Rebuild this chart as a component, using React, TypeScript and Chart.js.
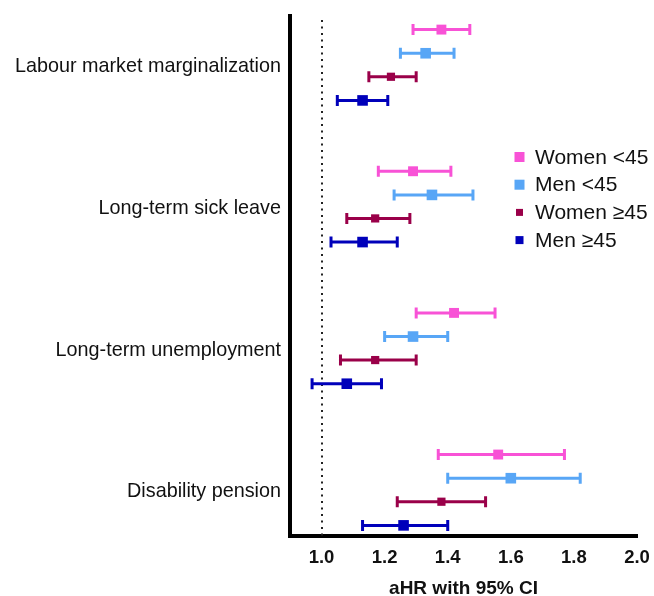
import React, { useEffect, useRef } from 'react';
import { Chart, registerables } from 'chart.js';

Chart.register(...registerables);

// ---------- DATA ----------
const CATEGORIES = [
  'Labour market marginalization',
  'Long-term sick leave',
  'Long-term unemployment',
  'Disability pension',
];
const SERIES_LABELS = ['Women <45', 'Men <45', 'Women \u226545', 'Men \u226545'];

const WOMEN_U45_HR = [1.38, 1.29, 1.42, 1.56];
const WOMEN_U45_LO = [1.29, 1.18, 1.30, 1.37];
const WOMEN_U45_HI = [1.47, 1.41, 1.55, 1.77];

const MEN_U45_HR = [1.33, 1.35, 1.29, 1.60];
const MEN_U45_LO = [1.25, 1.23, 1.20, 1.40];
const MEN_U45_HI = [1.42, 1.48, 1.40, 1.82];

const WOMEN_O45_HR = [1.22, 1.17, 1.17, 1.38];
const WOMEN_O45_LO = [1.15, 1.08, 1.06, 1.24];
const WOMEN_O45_HI = [1.30, 1.28, 1.30, 1.52];

const MEN_O45_HR = [1.13, 1.13, 1.08, 1.26];
const MEN_O45_LO = [1.05, 1.03, 0.97, 1.13];
const MEN_O45_HI = [1.21, 1.24, 1.19, 1.40];

const X_TICKS = [1.0, 1.2, 1.4, 1.6, 1.8, 2.0];
const X_MIN = 0.9;
const X_MAX = 2.0;
const REF_VALUE = 1.0;
const X_TITLE = 'aHR with 95% CI';

// ---------- STYLE ----------
const FONT = "'Liberation Sans', Arial, Helvetica, sans-serif";
const COLORS = ['#F852D6', '#58A6F6', '#9A0049', '#0000BA'];
const POINT_RADII = [7, 7.5, 5.8, 7.5];
const LEGEND_BOX = [10, 10, 7, 8];
const ROW_OFFSETS = [-0.25, -0.083, 0.083, 0.25];

const SERIES = [
  { hr: WOMEN_U45_HR, lo: WOMEN_U45_LO, hi: WOMEN_U45_HI },
  { hr: MEN_U45_HR, lo: MEN_U45_LO, hi: MEN_U45_HI },
  { hr: WOMEN_O45_HR, lo: WOMEN_O45_LO, hi: WOMEN_O45_HI },
  { hr: MEN_O45_HR, lo: MEN_O45_LO, hi: MEN_O45_HI },
];

const errorBarPlugin = {
  id: 'errorBars',
  beforeDatasetsDraw(chart: any) {
    const { ctx, chartArea, scales } = chart;
    const xs = scales.x;
    const ys = scales.y;
    ctx.save();
    // reference dotted line
    const rx = Math.round(xs.getPixelForValue(REF_VALUE));
    ctx.strokeStyle = '#222';
    ctx.lineWidth = 2;
    ctx.lineCap = 'butt';
    ctx.setLineDash([2, 4.5]);
    ctx.beginPath();
    ctx.moveTo(rx, chartArea.top + 4);
    ctx.lineTo(rx, chartArea.bottom);
    ctx.stroke();
    ctx.setLineDash([]);
    // error bars
    chart.data.datasets.forEach((ds: any) => {
      ctx.strokeStyle = ds.borderColor;
      ctx.lineWidth = 3;
      ds.data.forEach((p: any) => {
        const yy = ys.getPixelForValue(p.y);
        const x1 = xs.getPixelForValue(p.lo);
        const x2 = xs.getPixelForValue(p.hi);
        ctx.beginPath();
        ctx.moveTo(x1, yy);
        ctx.lineTo(x2, yy);
        ctx.moveTo(x1, yy - 5.5);
        ctx.lineTo(x1, yy + 5.5);
        ctx.moveTo(x2, yy - 5.5);
        ctx.lineTo(x2, yy + 5.5);
        ctx.stroke();
      });
    });
    ctx.restore();
  },
};

const legendPlugin = {
  id: 'insideLegend',
  afterDraw(chart: any) {
    const { ctx } = chart;
    ctx.save();
    ctx.font = `21px ${FONT}`;
    ctx.textBaseline = 'middle';
    ctx.textAlign = 'left';
    chart.data.datasets.forEach((ds: any, i: number) => {
      const cy = 157 + i * 27.7;
      const s = LEGEND_BOX[i];
      ctx.fillStyle = ds.backgroundColor;
      ctx.fillRect(519.5 - s / 2, cy - s / 2, s, s);
      ctx.fillStyle = '#111';
      ctx.fillText(ds.label, 535, cy + 1);
    });
    ctx.restore();
  },
};

export default function App() {
  const ref = useRef<HTMLCanvasElement>(null);
  useEffect(() => {
    const datasets = SERIES.map((s, si) => ({
      label: SERIES_LABELS[si],
      data: CATEGORIES.map((_, ci) => ({
        x: s.hr[ci],
        y: ci + ROW_OFFSETS[si],
        lo: s.lo[ci],
        hi: s.hi[ci],
      })),
      backgroundColor: COLORS[si],
      borderColor: COLORS[si],
      borderWidth: 0,
      pointStyle: 'rect',
      pointRadius: POINT_RADII[si],
      showLine: false,
    }));
    const chart = new Chart(ref.current as HTMLCanvasElement, {
      type: 'scatter',
      data: { datasets } as any,
      options: {
        animation: false,
        responsive: false,
        devicePixelRatio: 1,
        events: [],
        layout: { padding: { left: 0, top: 16, right: 17, bottom: 0 } },
        plugins: {
          legend: { display: false },
          tooltip: { enabled: false },
        },
        scales: {
          x: {
            type: 'linear',
            min: X_MIN,
            max: X_MAX,
            afterBuildTicks: (scale: any) => {
              scale.ticks = X_TICKS.map((v) => ({ value: v }));
            },
            afterFit: (scale: any) => {
              scale.height = 60;
              scale.paddingLeft = 0;
              scale.paddingRight = 0;
            },
            grid: { display: false, drawTicks: false },
            border: { display: true, width: 4, color: '#000' },
            ticks: {
              padding: 11,
              color: '#111',
              font: { family: FONT, size: 18.5, weight: 'bold' },
              callback: (v: any) => Number(v).toFixed(1),
            },
            title: {
              display: true,
              text: X_TITLE,
              color: '#111',
              padding: { top: 0, bottom: 0 },
              font: { family: FONT, size: 19, weight: 'bold', lineHeight: 0.75 },
            },
          },
          y: {
            type: 'linear',
            reverse: true,
            min: -0.346,
            max: 3.325,
            afterBuildTicks: (scale: any) => {
              scale.ticks = CATEGORIES.map((_, i) => ({ value: i }));
            },
            afterFit: (scale: any) => {
              scale.width = 290;
              scale.paddingTop = 0;
              scale.paddingBottom = 0;
            },
            grid: { display: false, drawTicks: false },
            border: { display: true, width: 4, color: '#000' },
            ticks: {
              padding: 9,
              labelOffset: 2,
              color: '#111',
              autoSkip: false,
              font: { family: FONT, size: 19.8 },
              callback: (v: any) => CATEGORIES[Math.round(Number(v))] ?? '',
            },
          },
        },
      } as any,
      plugins: [errorBarPlugin, legendPlugin],
    });
    return () => chart.destroy();
  }, []);
  return (
    <div style={{ position: 'absolute', left: 0, top: 0, width: 654, height: 596, background: '#fff' }}>
      <canvas ref={ref} width={654} height={596} style={{ display: 'block', width: 654, height: 596 }} />
    </div>
  );
}
